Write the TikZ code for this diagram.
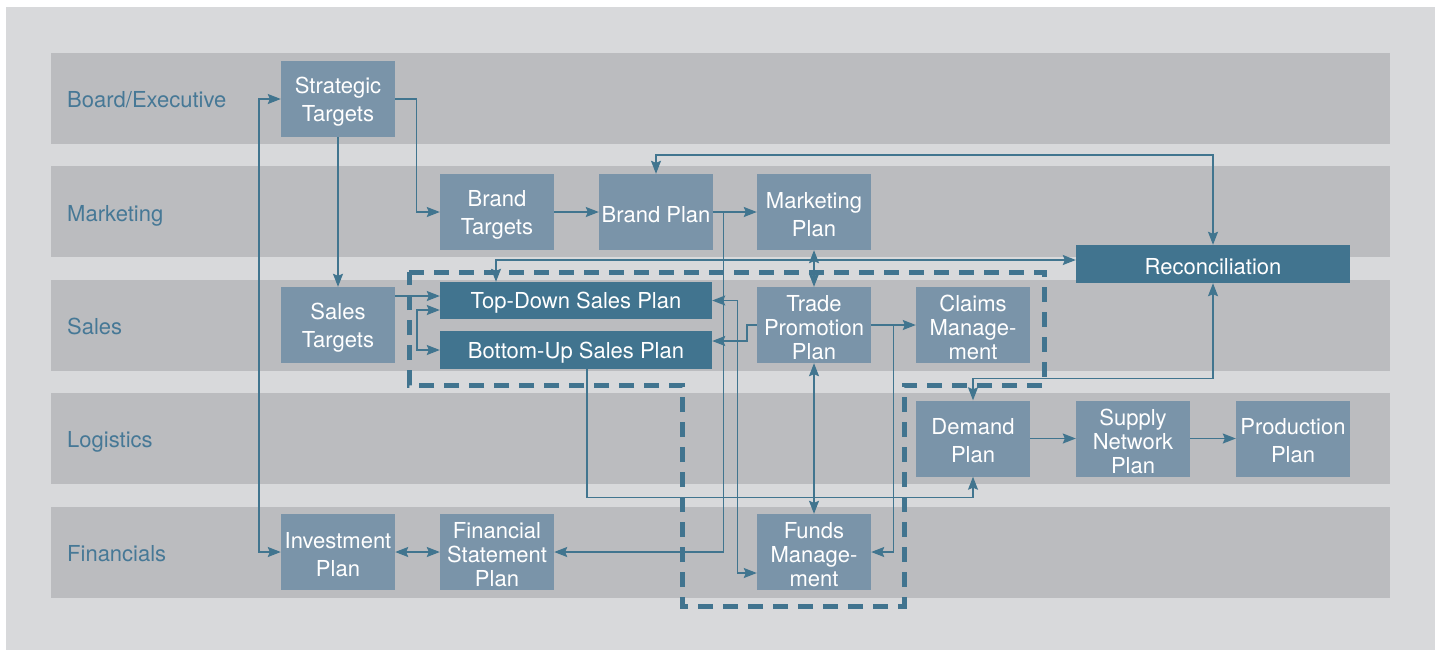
\documentclass[tikz,border=0pt]{standalone}
\usepackage{fontspec}
\setmainfont{TeX Gyre Heros}
\usetikzlibrary{arrows.meta}
\definecolor{bgc}{HTML}{D8D9DB}
\definecolor{bandc}{HTML}{BBBCBF}
\definecolor{boxl}{HTML}{7A94A9}
\definecolor{boxd}{HTML}{41748F}
\definecolor{linec}{HTML}{41758F}
\definecolor{labc}{HTML}{467896}
\tikzset{
  tip/.tip={Stealth[length=13pt,width=10pt,inset=2pt]},
  conn/.style={draw=linec, line width=1.4pt, -tip},
  biconn/.style={draw=linec, line width=1.4pt, tip-tip},
  box/.style={fill=boxl, minimum width=114pt, minimum height=76pt, inner sep=0pt},
  darkbox/.style={box, fill=boxd, minimum height=38pt},
  boxtext/.style={text=white, inner sep=0pt, align=center, yshift=-2.5pt, font=\fontsize{22}{28}\selectfont},
  boxtextthree/.style={boxtext, font=\fontsize{22}{24}\selectfont},
  band/.style={fill=bandc, draw=none},
  lanelabel/.style={anchor=base west, text=labc, inner sep=0pt, font=\fontsize{22}{26}\selectfont},
  dashbox/.style={draw=boxd, line width=5pt, dash pattern=on 15pt off 10pt, line join=miter}
}
\begin{document}
\begin{tikzpicture}[x=1pt,y=-1pt]
\useasboundingbox (0,0) rectangle (1440,657);
\fill[white] (0,0) rectangle (1440,657);
\fill[bgc] (6,7) rectangle (1435,650);
% bands
\fill[band] (51,53) rectangle (1390,144);
\fill[band] (51,166) rectangle (1390,257);
\fill[band] (51,280) rectangle (1390,371);
\fill[band] (51,393) rectangle (1390,484);
\fill[band] (51,507) rectangle (1390,598);
% lane labels
\node[lanelabel] (lb) at (67,107) {Board/Executive};
\node[lanelabel] (lm) at (67,221) {Marketing};
\node[lanelabel] (ls) at (67,334) {Sales};
\node[lanelabel] (ll) at (67,447) {Logistics};
\node[lanelabel] (lf) at (67,561) {Financials};
% boxes
\node[box, label={[boxtext]center:Strategic\\Targets}] (st) at (338,99) {};
\node[box, label={[boxtext]center:Brand\\Targets}] (bt) at (497,212) {};
\node[box, label={[boxtext]center:Brand Plan}] (bp) at (656,212) {};
\node[box, label={[boxtext]center:Marketing\\Plan}] (mp) at (814,212) {};
\node[box, label={[boxtext]center:Sales\\Targets}] (stg) at (338,325) {};
\node[darkbox, minimum width=272pt, minimum height=37pt, label={[boxtext]center:Top-Down Sales Plan}] (td) at (576,300.5) {};
\node[darkbox, minimum width=272pt, label={[boxtext]center:Bottom-Up Sales Plan}] (bu) at (576,350) {};
\node[box, label={[boxtextthree]center:Trade\\Promotion\\Plan}] (tp) at (814,325) {};
\node[box, label={[boxtextthree]center:Claims\\Manage-\\ment}] (cm) at (973,325) {};
\node[darkbox, minimum width=274pt, label={[boxtext]center:Reconciliation}] (rec) at (1213,264) {};
\node[box, label={[boxtext]center:Demand\\Plan}] (dp) at (973,438.5) {};
\node[box, label={[boxtextthree]center:Supply\\Network\\Plan}] (sn) at (1133,438.5) {};
\node[box, label={[boxtext]center:Production\\Plan}] (pp) at (1293,438.5) {};
\node[box, label={[boxtext]center:Investment\\Plan}] (ip) at (338,552) {};
\node[box, label={[boxtextthree]center:Financial\\Statement\\Plan}] (fs) at (497,552) {};
\node[box, label={[boxtextthree]center:Funds\\Manage-\\ment}] (fm) at (814,552) {};
% helper coordinates
\coordinate (tdin1) at ([yshift=4.5pt]td.west);
\coordinate (tdin2) at ([yshift=-9.5pt]td.west);
\coordinate (recin) at ([yshift=4pt]rec.west);
\coordinate (tdtop) at ([xshift=-80pt]td.north);
\coordinate (buin) at ([yshift=9pt]bu.east);
\coordinate (fmin) at ([yshift=-21pt]fm.west);
\coordinate (buout) at ([xshift=11pt]bu.south);
% connectors
\draw[conn] (st.east) -- ++(21,0) |- (bt.west);
\draw[conn] (st.south) -- (stg.north);
\draw[biconn] (st.west) -- ++(-22,0) |- (ip.west);
\draw[conn] (bt.east) -- (bp.west);
\draw[conn] (bp.east) -- (mp.west);
\draw[conn] (bp.east) -- ++(10,0) |- (fs.east);
\draw[biconn] (bp.north) -- ++(0,-19) -| (rec.north);
\draw[biconn] (tdtop) |- (recin);
\draw[biconn] (mp.south) -- (tp.north);
\draw[biconn] (tp.south) -- (fm.north);
\draw[conn] (tdin1 -| stg.east) -- (tdin1);
\draw[biconn] (tdin2) -- ++(-23,0) |- (bu.west);
\draw[conn] (tp.west) -- ++(-10,0) |- (buin);
\draw[biconn] (td.east) -- ++(25,0) |- (fmin);
\draw[conn] (tp.east) -- (cm.west);
\draw[conn] (tp.east) -- ++(22,0) |- (fm.east);
\draw[conn] (buout) -- ++(0,128) -| (dp.south);
\draw[biconn] (rec.south) -- ++(0,95) -| (dp.north);
\draw[conn] (dp.east) -- (sn.west);
\draw[conn] (sn.east) -- (pp.west);
\draw[biconn] (ip.east) -- (fs.west);
% dashed boundary
\draw[dashbox] (409,272) -- (1044,272) -- (1044,385) -- (904,385) -- (904,606) -- (682,606) -- (682,385) -- (409,385) -- cycle;
\end{tikzpicture}
\end{document}
